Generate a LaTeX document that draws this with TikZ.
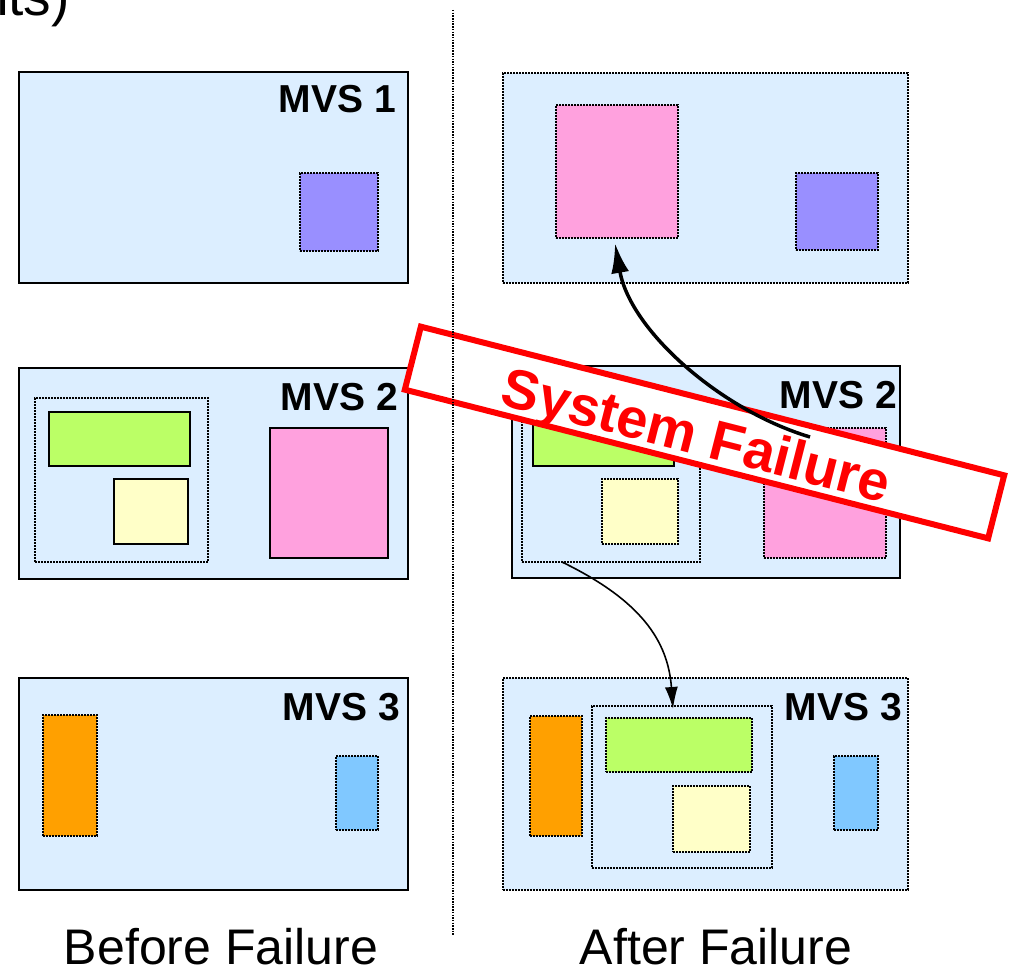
\documentclass[tikz,border=0pt]{standalone}
\usepackage{fontspec}
\setmainfont{Liberation Sans}
\usetikzlibrary{calc, arrows.meta, positioning}

\definecolor{boxblue}{RGB}{220,238,255}
\definecolor{jobpurple}{RGB}{153,143,255}
\definecolor{jobpink}{RGB}{255,161,222}
\definecolor{jobgreen}{RGB}{187,255,102}
\definecolor{jobyellow}{RGB}{255,255,200}
\definecolor{joborange}{RGB}{255,160,0}
\definecolor{jobblue}{RGB}{128,200,255}

\begin{document}
\begin{tikzpicture}[x=1pt, y=-1pt, >=Latex,
  sysbox/.style={draw, line width=2.5pt, fill=boxblue, inner sep=0pt, outer sep=0pt, anchor=north west},
  sysdot/.style={sysbox, dash pattern=on 2pt off 1pt},
  dotbox/.style={draw, line width=2.5pt, dash pattern=on 2pt off 1pt, inner sep=0pt, outer sep=0pt, anchor=north west},
  solidbox/.style={draw, line width=2pt, inner sep=0pt, outer sep=0pt, anchor=north west},
  mvslabel/.style={font=\bfseries\fontsize{39}{41}\selectfont, inner sep=0pt, anchor=base east},
  caption/.style={font=\fontsize{50}{52}\selectfont, inner sep=0pt, anchor=base}]
\useasboundingbox (0,0) rectangle (1009,973);

% cut-off title
\node[font=\fontsize{55}{57}\selectfont, inner sep=0pt, anchor=base east] (title) at (70,16) {nts)};

% before failure
\node[sysbox, minimum width=389, minimum height=211] (mvsA) at (19,72) {};
\node[mvslabel] (lblA) at (396,113) {MVS 1};
\node[dotbox, fill=jobpurple, minimum width=78, minimum height=78] (purpA) at (300,173) {};

\node[sysbox, minimum width=389, minimum height=211] (mvsB) at (19,368) {};
\node[mvslabel] (lblB) at (398,410) {MVS 2};
\node[dotbox, minimum width=173, minimum height=164] (grpA) at (35,398) {};
\node[solidbox, fill=jobgreen, minimum width=141, minimum height=54] (greenA) at (49,412) {};
\node[solidbox, fill=jobyellow, minimum width=74, minimum height=65] (yellowA) at (114,479) {};
\node[solidbox, fill=jobpink, minimum width=118, minimum height=130] (pinkA) at (270,428) {};

\node[sysbox, minimum width=389, minimum height=212] (mvsC) at (19,678) {};
\node[mvslabel] (lblC) at (400,720) {MVS 3};
\node[dotbox, fill=joborange, minimum width=54, minimum height=121] (orangeA) at (43,715) {};
\node[dotbox, fill=jobblue, minimum width=42, minimum height=74] (blueA) at (336,756) {};

% after failure
\node[sysdot, minimum width=405, minimum height=210] (mvsD) at (503,73) {};
\node[dotbox, fill=jobpink, minimum width=122, minimum height=133] (pinkB) at (556,105) {};
\node[dotbox, fill=jobpurple, minimum width=82, minimum height=77] (purpB) at (796,173) {};

\node[sysbox, minimum width=388, minimum height=212] (mvsE) at (512,366) {};
\node[mvslabel] (lblE) at (897,408) {MVS 2};
\node[dotbox, minimum width=178, minimum height=164] (grpB) at (522,398) {};
\node[solidbox, fill=jobgreen, minimum width=141, minimum height=54] (greenB) at (533,412) {};
\node[dotbox, fill=jobyellow, minimum width=76, minimum height=65] (yellowB) at (602,479) {};
\node[dotbox, fill=jobpink, minimum width=122, minimum height=130] (pinkC) at (764,428) {};

\node[sysdot, minimum width=405, minimum height=212] (mvsF) at (503,678) {};
\node[mvslabel] (lblF) at (902,720) {MVS 3};
\node[dotbox, fill=joborange, minimum width=52, minimum height=120] (orangeB) at (530,716) {};
\node[dotbox, minimum width=180, minimum height=162] (grpC) at (592,706) {};
\node[dotbox, fill=jobgreen, minimum width=146, minimum height=54] (greenC) at (606,718) {};
\node[dotbox, fill=jobyellow, minimum width=77, minimum height=66] (yellowC) at (673,786) {};
\node[dotbox, fill=jobblue, minimum width=44, minimum height=74] (blueB) at (834,756) {};

% moved group
\coordinate (srcB) at ($(grpB.south west)+(40,0)$);
\draw[line width=1.6pt, -{Latex[length=22pt,width=13pt]}] (srcB) .. controls (640,600) and (668,640) .. ($(grpC.north)+(-9,3)$);

% failure banner
\node[draw=red, line width=6pt, fill=white, minimum width=602, minimum height=65, inner sep=0pt, rotate=-14.3] (banner) at (704.5,432.5) {};
\node[font=\bfseries\fontsize{56}{58}\selectfont, text=red, inner sep=0pt, rotate=-14.3] (failtxt) at ($(banner.center)+(-9,7)$) {System Failure};

% restarted job
\coordinate (srcA) at (810,437);
\draw[line width=3.5pt, -{Latex[length=30pt,width=18pt]}] (srcA) .. controls (720,410) and (630,330) .. ($(pinkB.south)+(-2,5)$);

% divider
\coordinate (divtop) at (453,10);
\coordinate (divbot) at (453,935);
\draw[line width=1.8pt, dash pattern=on 1.5pt off 1.2pt] (divtop) -- (divbot);

\node[caption] (before) at (221,964) {Before Failure};
\node[caption] (after) at (716,964) {After Failure};
\end{tikzpicture}
\end{document}
